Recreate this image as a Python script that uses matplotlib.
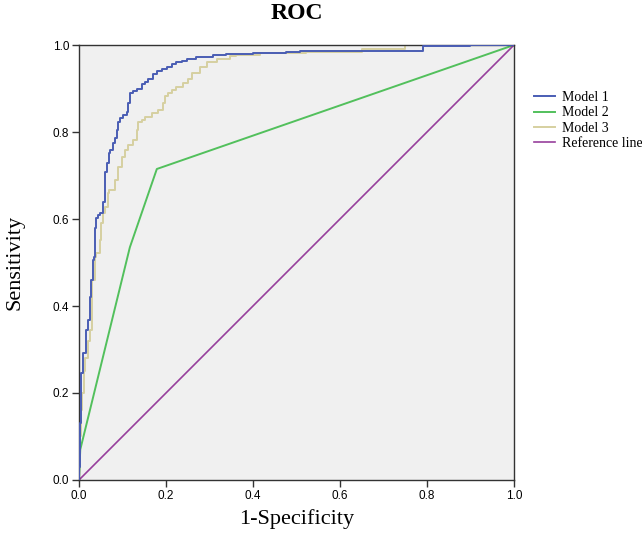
import matplotlib
matplotlib.use("Agg")
import matplotlib.pyplot as plt
import numpy as np

# ROC curve points (1-specificity, sensitivity)
m1_fpr = [0.0, 0.003, 0.005, 0.009, 0.016, 0.021, 0.025,
          0.028, 0.032, 0.034, 0.037, 0.040, 0.044, 0.048, 0.055, 0.059,
          0.064, 0.069, 0.071, 0.078, 0.083, 0.087, 0.090, 0.094, 0.101,
          0.110, 0.113, 0.117, 0.124, 0.133, 0.144, 0.152, 0.159, 0.170, 0.179,
          0.190, 0.202, 0.213, 0.224, 0.236, 0.248, 0.270, 0.308, 0.339, 0.40,
          0.477, 0.508, 0.554, 0.79, 0.80, 0.90, 1.0]
m1_tpr = [0.0, 0.03, 0.13, 0.245, 0.292, 0.345, 0.368,
          0.421, 0.460, 0.506, 0.513, 0.579, 0.602, 0.609, 0.614, 0.640,
          0.709, 0.728, 0.751, 0.759, 0.775, 0.786, 0.805, 0.823, 0.832,
          0.839, 0.846, 0.867, 0.890, 0.894, 0.899, 0.910, 0.914, 0.921, 0.933,
          0.941, 0.945, 0.949, 0.956, 0.961, 0.963, 0.969, 0.972, 0.977, 0.979,
          0.982, 0.985, 0.986, 0.986, 0.997, 0.998, 1.0]

m2_fpr = [0.0, 0.003, 0.117, 0.179, 1.0]
m2_tpr = [0.0, 0.07, 0.535, 0.715, 1.0]

m3_fpr = [0.0, 0.004, 0.008, 0.012, 0.014, 0.020, 0.025, 0.030, 0.036, 0.040, 0.048,
          0.051, 0.055, 0.059, 0.067, 0.070, 0.082, 0.090, 0.098, 0.106,
          0.113, 0.124, 0.133, 0.136, 0.144, 0.152, 0.167, 0.182, 0.193, 0.198,
          0.205, 0.213, 0.224, 0.239, 0.251, 0.259, 0.278, 0.294, 0.317, 0.347,
          0.362, 0.416, 0.523, 0.65, 0.75, 0.88, 1.0]
m3_tpr = [0.0, 0.10, 0.16, 0.20, 0.25, 0.28, 0.32, 0.345, 0.46, 0.513, 0.521,
          0.552, 0.590, 0.613, 0.628, 0.659, 0.667, 0.690, 0.720, 0.743,
          0.759, 0.770, 0.782, 0.805, 0.824, 0.828, 0.835, 0.844, 0.851, 0.867,
          0.882, 0.890, 0.897, 0.904, 0.912, 0.922, 0.936, 0.950, 0.962, 0.969,
          0.975, 0.977, 0.981, 0.985, 0.990, 1.0, 1.0]

ref_x = [0.0, 1.0]
ref_y = [0.0, 1.0]

labels = ["Model 1", "Model 2", "Model 3", "Reference line"]
colors = ["#4a5db4", "#52c05c", "#d6d0a0", "#973f9c"]

serif = ["Liberation Serif", "DejaVu Serif"]
sans = ["Liberation Sans", "DejaVu Sans"]

fig = plt.figure(figsize=(6.42, 5.47), dpi=100)
ax = fig.add_axes([0.123, 0.1225, 0.6776, 0.7952])
ax.set_facecolor("#f0f0f0")

ax.plot(m1_fpr, m1_tpr, color=colors[0], lw=1.4, label=labels[0], zorder=3,
        drawstyle="steps-pre")
ax.plot(m2_fpr, m2_tpr, color=colors[1], lw=1.4, label=labels[1])
ax.plot(m3_fpr, m3_tpr, color=colors[2], lw=1.4, label=labels[2],
        drawstyle="steps-pre")
ax.plot(ref_x, ref_y, color=colors[3], lw=1.2, label=labels[3])

ax.set_xlim(0, 1)
ax.set_ylim(0, 1)
ticks = np.arange(0, 1.01, 0.2)
ax.set_xticks(ticks)
ax.set_yticks(ticks)
ax.set_xticklabels([f"{t:.1f}" for t in ticks], family=sans, fontsize=8.5)
ax.set_yticklabels([f"{t:.1f}" for t in ticks], family=sans, fontsize=8.5)
ax.tick_params(direction="out", length=5, width=1, color="#333333", pad=2)
for s in ax.spines.values():
    s.set_color("#333333")
    s.set_linewidth(1)

ax.set_title("ROC", family=serif, fontsize=17, fontweight="bold", pad=19)
ax.set_xlabel("1-Specificity", family=serif, fontsize=16, labelpad=5)
ax.set_ylabel("Sensitivity", family=serif, fontsize=16, labelpad=20)

fig.legend(loc="upper left", bbox_to_anchor=(0.832, 0.833), frameon=False,
           prop={"family": serif, "size": 10}, handlelength=1.5,
           handletextpad=0.5, labelspacing=0.15, borderpad=0, borderaxespad=0)

fig.savefig("out.png", dpi=100)
